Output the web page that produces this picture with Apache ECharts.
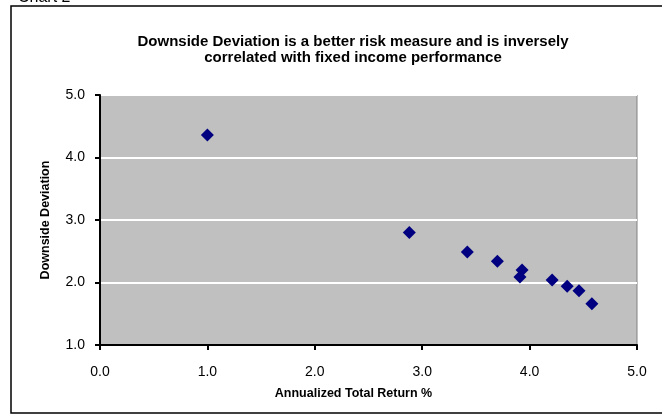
<!DOCTYPE html>
<html>
<head>
<meta charset="utf-8">
<script src="https://cdn.jsdelivr.net/npm/echarts@6/dist/echarts.min.js"></script>
<style>
html,body{margin:0;padding:0;background:#fff;}
#chart{width:662px;height:415px;}
</style>
</head>
<body>
<div id="chart"></div>
<script>
// Data
var returns = [1.00, 2.88, 3.42, 3.70, 3.93, 3.91, 4.21, 4.35, 4.46, 4.58];
var downsideDev = [4.36, 2.80, 2.49, 2.34, 2.20, 2.09, 2.04, 1.94, 1.87, 1.66];
var titleText = 'Downside Deviation is a better risk measure and is inversely\ncorrelated with fixed income performance';
var xName = 'Annualized Total Return %';
var yName = 'Downside Deviation';
var chartLabel = 'Chart 2';

var points = returns.map(function (r, i) { return [r, downsideDev[i]]; });

var font = '"Liberation Sans", Arial, sans-serif';
var chart = echarts.init(document.getElementById('chart'), null, {renderer: 'canvas'});
chart.setOption({
  animation: false,
  backgroundColor: '#ffffff',
  textStyle: {fontFamily: font},
  title: {
    text: titleText,
    left: 348,
    top: 29,
    textAlign: 'center',
    textStyle: {fontSize: 15, fontWeight: 'bold', color: '#000', lineHeight: 16, fontFamily: font}
  },
  graphic: [
    {
      type: 'rect',
      shape: {x: 11, y: 6, width: 660, height: 407},
      style: {fill: 'none', stroke: '#000', lineWidth: 1.5},
      silent: true,
      z: 100
    },
    {
      type: 'text',
      x: 18, y: 6,
      style: {text: chartLabel, fontSize: 16, fontFamily: font, fill: '#000', verticalAlign: 'bottom'},
      z: 100
    }
  ],
  grid: {
    left: 100, top: 95, right: 25, bottom: 70,
    show: true,
    backgroundColor: '#C0C0C0',
    borderColor: '#808080',
    borderWidth: 1
  },
  xAxis: {
    type: 'value',
    min: 0, max: 5, interval: 1,
    name: xName,
    nameLocation: 'middle',
    nameGap: 42,
    nameTextStyle: {fontSize: 12.5, fontWeight: 'bold', color: '#000', fontFamily: font, padding: [0, 30, 0, 0]},
    axisLine: {show: true, onZero: false, lineStyle: {color: '#000', width: 2}},
    axisTick: {show: true, length: 5, lineStyle: {color: '#000', width: 2}},
    axisLabel: {fontSize: 14, color: '#000', margin: 20, fontFamily: font,
      formatter: function (v) { return v.toFixed(1); }},
    splitLine: {show: false}
  },
  yAxis: {
    type: 'value',
    min: 1, max: 5, interval: 1,
    name: yName,
    nameLocation: 'middle',
    nameGap: 48,
    nameTextStyle: {fontSize: 12.5, fontWeight: 'bold', color: '#000', fontFamily: font},
    axisLine: {show: true, onZero: false, lineStyle: {color: '#000', width: 2}},
    axisTick: {show: true, length: 5, lineStyle: {color: '#000', width: 2}},
    axisLabel: {fontSize: 14, color: '#000', margin: 15, fontFamily: font,
      formatter: function (v) { return v.toFixed(1); }},
    splitLine: {show: true, lineStyle: {color: '#ffffff', width: 2}}
  },
  series: [{
    type: 'scatter',
    data: points,
    symbol: 'diamond',
    symbolSize: 13,
    itemStyle: {color: '#000080', opacity: 1}
  }]
});
</script>
</body>
</html>
